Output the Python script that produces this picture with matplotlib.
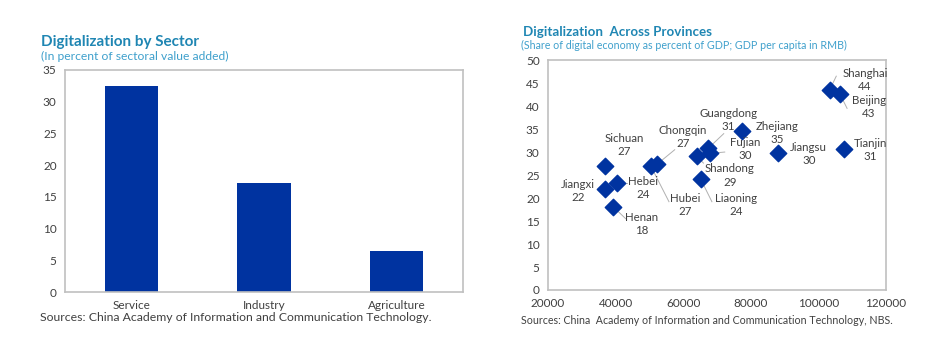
import matplotlib.pyplot as plt
import numpy as np

plt.rcParams['font.family'] = ['Lato', 'DejaVu Sans']

# Sector bars
sectors = ['Service', 'Industry', 'Agriculture']
sector_share = [32.5, 17.2, 6.5]

# Provinces: GDP per capita (RMB), digital share (% of GDP), label value
provinces = ['Shanghai', 'Beijing', 'Zhejiang', 'Guangdong', 'Fujian', 'Shandong',
             'Jiangsu', 'Tianjin', 'Sichuan', 'Chongqin', 'Hubei', 'Liaoning',
             'Hebei', 'Jiangxi', 'Henan']
gdp_pc = [103400, 106400, 77500, 67400, 67900, 64000,
          88000, 107700, 36900, 52200, 50400, 65200,
          40300, 36900, 39300]
digital_share = [43.6, 42.6, 34.6, 30.8, 29.7, 29.1,
                 29.9, 30.6, 27.0, 27.3, 27.0, 24.1,
                 23.3, 21.9, 18.1]
label_vals = ['44', '43', '35', '31', '30', '29', '30', '31', '27', '27', '27', '24',
              '24', '22', '18']

# where each label sits (data coords) and where its leader line ends (None = no line)
label_pos = {
    'Shanghai': (113800, 45.6, (105300, 46.5)), 'Beijing': (115000, 39.8, (108500, 39.5)),
    'Zhejiang': (87700, 34.1, None), 'Guangdong': (73300, 37.0, (72000, 34.0)),
    'Fujian': (78300, 30.7, (72300, 30.0)), 'Shandong': (73800, 24.9, (66000, 27.6)),
    'Jiangsu': (97200, 29.6, None), 'Tianjin': (115300, 30.4, None),
    'Sichuan': (42500, 31.5, None), 'Chongqin': (59900, 33.3, (57500, 30.5)),
    'Hubei': (60500, 18.5, (55800, 19.2)), 'Liaoning': (75600, 18.5, (68500, 19.2)),
    'Hebei': (48100, 22.2, (43500, 23.3)), 'Jiangxi': (28900, 21.5, None),
    'Henan': (47800, 14.3, (43000, 15.5)),
}

blue = '#0033a0'
title_col = '#1f86b3'
sub_col = '#3fa0cc'
txt = '#404040'
spine_col = '#c0c0c0'

fig = plt.figure(figsize=(9.42, 3.57), dpi=100)

# ---- left: bars
ax1 = fig.add_axes([0.069, 0.182, 0.4225, 0.622])
ax1.bar(np.arange(len(sectors)), sector_share, width=0.4, color=blue)
ax1.set_xlim(-0.5, 2.5)
ax1.set_ylim(0, 35)
ax1.set_yticks(range(0, 36, 5))
ax1.set_xticks(np.arange(len(sectors)))
ax1.set_xticklabels(sectors)

fig.text(0.043, 0.872, 'Digitalization by Sector', fontsize=11, fontweight='bold', color=title_col)
fig.text(0.043, 0.833, '(In percent of sectoral value added)', fontsize=8.7, color=sub_col)
fig.text(0.042, 0.1, 'Sources: China Academy of Information and Communication Technology.',
         fontsize=8.8, color=txt)

# ---- right: scatter
ax2 = fig.add_axes([0.5817, 0.1877, 0.3588, 0.644])
ax2.scatter(gdp_pc, digital_share, marker='D', s=70, color=blue, zorder=3)
ax2.set_xlim(20000, 120000)
ax2.set_ylim(0, 50)
ax2.set_xticks(range(20000, 120001, 20000))
ax2.set_yticks(range(0, 51, 5))

for name, x, y, v in zip(provinces, gdp_pc, digital_share, label_vals):
    lx, ly, end = label_pos[name]
    ax2.text(lx, ly, name + '\n' + v, ha='center', va='center', fontsize=8.3,
             color=txt, linespacing=1.25, zorder=4)
    if end is not None:
        ax2.plot([x, end[0]], [y, end[1]], color='#b0b0b0', lw=0.7, zorder=2)

fig.text(0.555, 0.9, 'Digitalization  Across Provinces', fontsize=9.6, fontweight='bold', color=title_col)
fig.text(0.553, 0.862, '(Share of digital economy as percent of GDP; GDP per capita in RMB)',
         fontsize=7.7, color=sub_col)
fig.text(0.553, 0.093, 'Sources: China  Academy of Information and Communication Technology, NBS.',
         fontsize=7.7, color=txt)

for ax in (ax1, ax2):
    for s in ax.spines.values():
        s.set_color(spine_col)
        s.set_linewidth(1.2)
    ax.tick_params(length=0, labelsize=8.5, colors=txt, pad=6)

fig.savefig('out.png', dpi=100)
